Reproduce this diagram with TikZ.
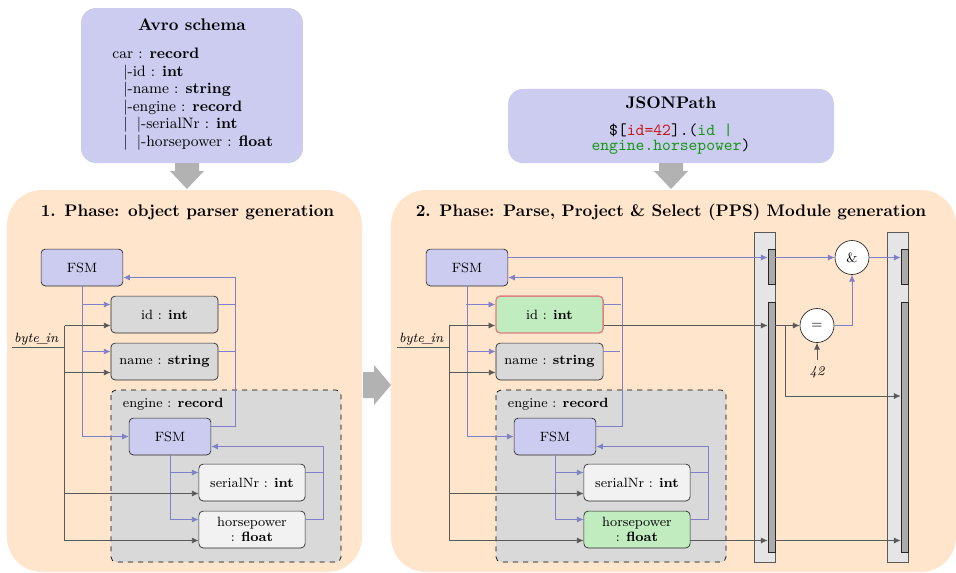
\documentclass[tikz,border=0pt]{standalone}
\usepackage{xcolor}
\usetikzlibrary{calc,arrows.meta}

\definecolor{lav}{RGB}{204,204,240}
\definecolor{lavline}{RGB}{128,128,200}
\definecolor{hit}{RGB}{192,236,192}
\definecolor{hitline}{RGB}{222,128,128}
\definecolor{phase}{RGB}{255,229,204}
\definecolor{codered}{RGB}{200,20,20}
\definecolor{codegreen}{RGB}{20,150,20}

\tikzset{
  fsm/.style={draw=black!85, fill=lav, rounded corners=2.5pt,
    minimum width=1.71cm, minimum height=0.77cm, font=\footnotesize},
  field/.style={draw=black!85, fill=black!15, rounded corners=2.5pt,
    minimum width=2.24cm, minimum height=0.77cm, font=\footnotesize},
  subfield/.style={field, fill=black!5, minimum width=2.22cm},
  twoline/.style={align=center, inner sep=1pt,
    font=\fontsize{8}{8.5}\selectfont},
  found/.style={fill=hit},
  record/.style={draw=black, dashed, fill=black!15, rounded corners=3pt},
  ctrl/.style={lavline, line width=0.5pt},
  data/.style={black!65, line width=0.5pt},
  op/.style={circle, draw=black!85, fill=white, minimum size=0.71cm,
    inner sep=0pt, font=\footnotesize},
  reg/.style={draw=black!65, fill=black!10, minimum width=0.44cm,
    minimum height=6.9cm, inner sep=0pt},
  slot/.style={draw=black!85, fill=black!33, minimum width=0.146cm,
    inner sep=0pt},
  panel/.style={fill=phase, rounded corners=0.73cm},
  src/.style={fill=lav, rounded corners=0.31cm},
  bigarrow/.style={fill=black!30},
  >={Latex[length=4pt,width=3.6pt]}
}

\begin{document}
\begin{tikzpicture}[x=0.0209cm, y=-0.0209cm]
\useasboundingbox (0,0) rectangle (956,572);

% inputs: schema and query
\node[src, minimum width=4.64cm, minimum height=3.24cm] (avro) at (192,85.5) {};
\node[font=\bfseries] (avrot) at (192,25) {Avro schema};
\node[anchor=north west, align=left, inner sep=0pt,
  font=\fontsize{9}{10.4}\selectfont] (schema) at (112,48)
  {car : \textbf{record}\\
   \hspace*{6.5pt}\textbar-id : \textbf{int}\\
   \hspace*{6.5pt}\textbar-name : \textbf{string}\\
   \hspace*{6.5pt}\textbar-engine : \textbf{record}\\
   \hspace*{6.5pt}\textbar\hspace*{5.5pt}\textbar-serialNr : \textbf{int}\\
   \hspace*{6.5pt}\textbar\hspace*{5.5pt}\textbar-horsepower : \textbf{float}};

\node[src, minimum width=6.81cm, minimum height=1.55cm] (json) at (671,126) {};
\node[font=\bfseries] (jsont) at (671,103) {JSONPath};
\node[align=center, inner sep=0pt,
  font=\ttfamily\fontsize{10}{9}\selectfont] (query) at (671,139)
  {\$[\textcolor{codered}{id=42}].(\textcolor{codegreen}{id |}\\
   \textcolor{codegreen}{engine.horsepower})};

% big arrows
\fill[bigarrow] (175,163) -- (199,163) -- (199,171) -- (204,171)
  -- (187,189) -- (170,171) -- (175,171) -- cycle;
\fill[bigarrow] (659,163) -- (683,163) -- (683,171) -- (688,171)
  -- (671,189) -- (654,171) -- (659,171) -- cycle;

% 1. phase
\fill[panel] (7,190) rectangle (362,572);
\node[font=\bfseries] (titA) at (187.5,212) {1. Phase: object parser generation};

\node[fsm] (fsmA) at (82,267.5) {FSM};
\node[field] (idA) at (164.5,314.5) {id : \textbf{int}};
\node[field] (nameA) at (164.5,361.5) {name : \textbf{string}};
\draw[record] (111,390) rectangle (341,562);
\node[anchor=west, font=\footnotesize] (engA) at (117,404) {engine : \textbf{record}};
\node[fsm] (fsmiA) at (170,436.5) {FSM};
\node[subfield] (serA) at (252,482.5) {serialNr : \textbf{int}};
\node[subfield, twoline] (hpA) at (252,529.5) {horsepower\\ : \textbf{float}};

% control
\draw[ctrl,->] (fsmA.south) |- (fsmiA.west);
\draw[ctrl,->] ($(idA.west)+(-29,-10)$) -- ++(29,0);
\draw[ctrl,->] ($(nameA.west)+(-29,-10)$) -- ++(29,0);
\draw[ctrl] ($(idA.east)+(0,-10)$) -- ++(17,0);
\draw[ctrl] ($(nameA.east)+(0,-10)$) -- ++(17,0);
\draw[ctrl,->] ($(fsmiA.east)+(0,-10)$) -| ($(fsmA.east)+(112,10)$)
  -- ($(fsmA.east)+(0,10)$);
\draw[ctrl,->] (fsmiA.south) |- ($(hpA.west)+(0,-10)$);
\draw[ctrl,->] ($(serA.west)+(-29,-10)$) -- ++(29,0);
\draw[ctrl] ($(serA.east)+(0,-10)$) -- ++(18,0);
\draw[ctrl,->] ($(hpA.east)+(0,-10)$) -| ($(fsmiA.east)+(112,10)$)
  -- ($(fsmiA.east)+(0,10)$);

% byte stream
\coordinate (inA) at (12,347);
\node[anchor=south west, inner sep=1pt, font=\footnotesize\itshape] (inlA) at (inA)
  {byte\kern-1pt\_\kern-1.5pt in};
\draw[data] (inA) -- ++(53,0);
\draw[data,->] ($(idA.west)+(-46,11)$) |- ($(hpA.west)+(0,11)$);
\draw[data,->] ($(idA.west)+(-46,11)$) -- ++(46,0);
\draw[data,->] ($(nameA.west)+(-46,11)$) -- ++(46,0);
\draw[data,->] ($(serA.west)+(-134,11)$) -- ++(134,0);

% phase change
\fill[bigarrow] (363,372) -- (374,372) -- (374,365) -- (391,385)
  -- (374,405) -- (374,398) -- (363,398) -- cycle;

% 2. phase
\fill[panel] (391,190) rectangle (956,572);
\node[font=\bfseries] (titB) at (671,212)
  {2. Phase: Parse, Project \& Select (PPS) Module generation};

\node[fsm] (fsmB) at (467,267.5) {FSM};
\node[field, found, draw=hitline, line width=0.8pt] (idB) at (549.5,314.5) {id : \textbf{int}};
\node[field] (nameB) at (549.5,361.5) {name : \textbf{string}};
\draw[record] (496,390) rectangle (726,562);
\node[anchor=west, font=\footnotesize] (engB) at (502,404) {engine : \textbf{record}};
\node[fsm] (fsmiB) at (555,436.5) {FSM};
\node[subfield] (serB) at (637,482.5) {serialNr : \textbf{int}};
\node[subfield, twoline, found] (hpB) at (637,529.5) {horsepower\\ : \textbf{float}};

% control
\draw[ctrl,->] (fsmB.south) |- (fsmiB.west);
\draw[ctrl,->] ($(idB.west)+(-29,-10)$) -- ++(29,0);
\draw[ctrl,->] ($(nameB.west)+(-29,-10)$) -- ++(29,0);
\draw[ctrl] ($(idB.east)+(0,-10)$) -- ++(17,0);
\draw[ctrl] ($(nameB.east)+(0,-10)$) -- ++(17,0);
\draw[ctrl,->] ($(fsmiB.east)+(0,-10)$) -| ($(fsmB.east)+(114,10)$)
  -- ($(fsmB.east)+(0,10)$);
\draw[ctrl,->] (fsmiB.south) |- ($(hpB.west)+(0,-10)$);
\draw[ctrl,->] ($(serB.west)+(-29,-10)$) -- ++(29,0);
\draw[ctrl] ($(serB.east)+(0,-10)$) -- ++(18,0);
\draw[ctrl,->] ($(hpB.east)+(0,-10)$) -| ($(fsmiB.east)+(112,10)$)
  -- ($(fsmiB.east)+(0,10)$);

% byte stream
\coordinate (inB) at (397,347);
\node[anchor=south west, inner sep=1pt, font=\footnotesize\itshape] (inlB) at (inB)
  {byte\kern-1pt\_\kern-1.5pt in};
\draw[data] (inB) -- ++(53,0);
\draw[data,->] ($(idB.west)+(-46,11)$) |- ($(hpB.west)+(0,11)$);
\draw[data,->] ($(idB.west)+(-46,11)$) -- ++(46,0);
\draw[data,->] ($(nameB.west)+(-46,11)$) -- ++(46,0);
\draw[data,->] ($(serB.west)+(-134,11)$) -- ++(134,0);

% output registers
\foreach \r/\x in {1/764.5, 2/897.5}{
  \node[reg] (reg\r) at (\x,397) {};
  \node[slot, minimum height=0.73cm] (vld\r) at (\x+7,266.5) {};
  \node[slot, minimum height=5.225cm] (dat\r) at (\x+7,427) {};
}

% select logic
\node[op] (and) at (852,257.5) {\&};
\node[op] (eq) at (817,325.5) {=};
\node[font=\footnotesize\itshape] (k42) at (817,372) {42};

\coordinate (fsmoB) at ($(fsmB.east)+(0,-10)$);
\draw[ctrl,->] (fsmoB) -- (fsmoB -| vld1.west);
\draw[ctrl,->] (fsmoB -| vld1.east) -- (and.west);
\draw[ctrl,->] (and.east) -- (and.east -| vld2.west);
\draw[ctrl,->] (eq.east) -| (and.south);

\coordinate (idoB) at ($(idB.east)+(0,11)$);
\draw[data,->] (idoB) -- (idoB -| dat1.west);
\draw[data,->] (idoB -| dat1.east) -- (eq.west);
\draw[data,->] ($(idoB -| dat1.east)+(10,0)$) |- ($(dat2.west)+(0,-31)$);
\draw[data,->] (k42) -- (eq.south);

\coordinate (hpoB) at ($(hpB.east)+(0,11)$);
\draw[data,->] (hpoB) -- (hpoB -| dat1.west);
\draw[data,->] (hpoB -| dat1.east) -- (hpoB -| dat2.west);

\end{tikzpicture}
\end{document}
